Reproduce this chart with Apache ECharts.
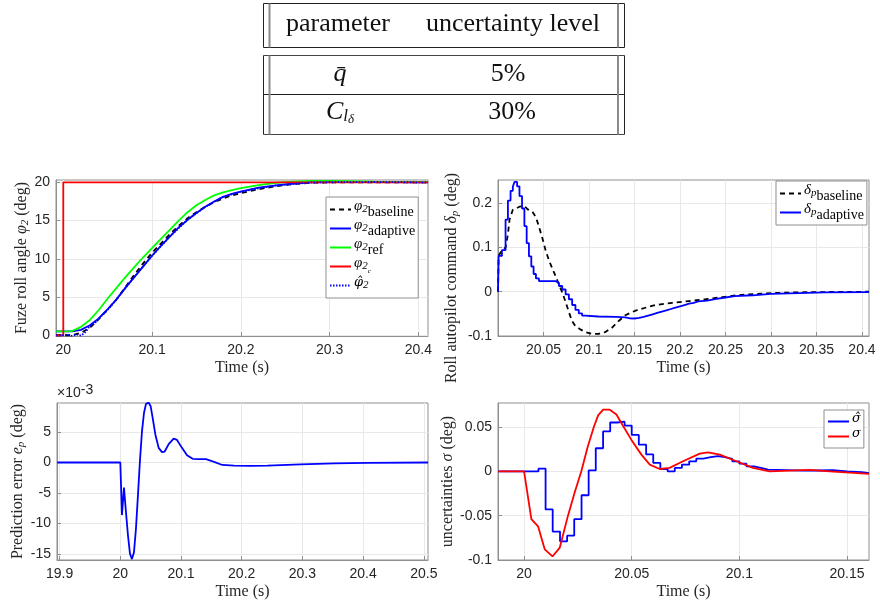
<!DOCTYPE html>
<html><head><meta charset="utf-8">
<script src="https://cdn.jsdelivr.net/npm/echarts@6/dist/echarts.min.js"></script>
<style>html,body{margin:0;padding:0;background:#fff}#c{width:880px;height:603px}</style>
</head><body><div id="c"></div><script>
// ---------- table ----------
const tableHeader = ['parameter', 'uncertainty level'];
const tableParams = ['{q|q̄}', '{c|C}{l|l}{d|δ}'];
const tableLevels = ['5%', '30%'];

// ---------- plot 1: fuze roll angle ----------
const phiT = [19.992, 20.0, 20.01, 20.02, 20.03, 20.04, 20.05, 20.06, 20.07, 20.08, 20.09, 20.1, 20.11, 20.12, 20.13, 20.14, 20.15, 20.16, 20.17, 20.18, 20.19, 20.2, 20.22, 20.24, 20.26, 20.28, 20.3, 20.35, 20.411];
const phiBaseline = [0, 0, 0.0, 0.3, 1.0, 2.1, 3.4, 4.7, 6.3, 7.9, 9.4, 10.8, 12.0, 13.2, 14.3, 15.3, 16.1, 16.8, 17.4, 17.9, 18.3, 18.6, 19.1, 19.5, 19.8, 19.95, 20.0, 20.0, 20.0];
const phiAdaptive = [0.5, 0.5, 0.5, 0.7, 1.3, 2.2, 3.4, 4.7, 6.2, 7.6, 9.0, 10.4, 11.7, 12.9, 14.1, 15.1, 16.0, 16.8, 17.5, 18.1, 18.5, 18.8, 19.3, 19.6, 19.85, 20.0, 20.05, 20.05, 20.0];
const phiRef = [0.5, 0.5, 0.55, 1.1, 2.0, 3.3, 4.8, 6.2, 7.6, 8.9, 10.2, 11.4, 12.6, 13.8, 15.0, 16.1, 17.0, 17.7, 18.3, 18.7, 19.0, 19.25, 19.65, 19.95, 20.1, 20.2, 20.2, 20.1, 20.05];
const cmdT = [19.992, 20.0, 20.0, 20.411];
const cmdV = [0, 0, 20, 20];
const hatT = [19.992, 20.0, 20.005, 20.01, 20.015, 20.02, 20.025, 20.03, 20.035, 20.04, 20.05, 20.06, 20.07, 20.08, 20.09, 20.1, 20.12, 20.14, 20.16, 20.18, 20.2, 20.24, 20.28, 20.35, 20.411];
const hatV = [0, 0, 0.1, -0.1, 0.1, -0.05, 0.4, 1.2, 1.5, 2.2, 3.3, 4.7, 6.2, 7.6, 9.0, 10.4, 12.9, 15.1, 16.8, 18.1, 18.8, 19.6, 20.0, 20.05, 20.0];
const p1XTicks = [20, 20.1, 20.2, 20.3, 20.4];
const p1YTicks = [0, 5, 10, 15, 20];

// ---------- plot 2: roll autopilot command ----------
const dpAdT = [20.0, 20.0007, 20.0043, 20.0083, 20.0109, 20.0138, 20.0163, 20.0181, 20.021, 20.0236, 20.0264, 20.029, 20.0315, 20.034, 20.0366, 20.0391, 20.0417, 20.045, 20.0634, 20.067, 20.0706, 20.0743, 20.0779, 20.0815, 20.0851, 20.0888, 20.0924, 20.096, 20.11, 20.13, 20.14, 20.145, 20.15, 20.155, 20.16, 20.165, 20.17, 20.175, 20.18, 20.185, 20.19, 20.195, 20.2, 20.205, 20.21, 20.215, 20.22, 20.23, 20.24, 20.25, 20.26, 20.28, 20.3, 20.33, 20.36, 20.4077];
const dpAdV = [0, 0.081, 0.094, 0.163, 0.206, 0.228, 0.237, 0.248, 0.238, 0.216, 0.188, 0.148, 0.110, 0.080, 0.057, 0.040, 0.030, 0.024, 0.020, 0.013, 0.005, -0.006, -0.017, -0.030, -0.041, -0.049, -0.054, -0.056, -0.057, -0.058, -0.060, -0.0605, -0.059, -0.057, -0.054, -0.051, -0.048, -0.045, -0.042, -0.039, -0.036, -0.033, -0.030, -0.027, -0.025, -0.022, -0.020, -0.016, -0.013, -0.010, -0.008, -0.005, -0.003, -0.0015, -0.0007, 0];
const dpBaT = [20.0, 20.0007, 20.0043, 20.0083, 20.0109, 20.0127, 20.0163, 20.0199, 20.0236, 20.029, 20.0326, 20.038, 20.0417, 20.0453, 20.0489, 20.0525, 20.0562, 20.0598, 20.0634, 20.067, 20.0707, 20.0739, 20.0776, 20.0813, 20.0849, 20.0904, 20.096, 20.1033, 20.1107, 20.118, 20.1254, 20.1327, 20.14, 20.1474, 20.1548, 20.1732, 20.1915, 20.2099, 20.2283, 20.2467, 20.2651, 20.3018, 20.3386, 20.4077];
const dpBaV = [0, 0.081, 0.094, 0.100, 0.130, 0.163, 0.185, 0.188, 0.192, 0.194, 0.186, 0.180, 0.168, 0.145, 0.120, 0.092, 0.070, 0.052, 0.035, 0.016, -0.002, -0.021, -0.044, -0.066, -0.077, -0.085, -0.091, -0.095, -0.095, -0.091, -0.081, -0.066, -0.053, -0.046, -0.040, -0.030, -0.025, -0.021, -0.017, -0.012, -0.0075, -0.003, -0.001, 0];
const p2XTicks = [20.05, 20.1, 20.15, 20.2, 20.25, 20.3, 20.35, 20.4];
const p2YTicks = [-0.1, 0, 0.1, 0.2];

// ---------- plot 3: prediction error (x 1e-3) ----------
const errT = [19.896, 20.0, 20.0027, 20.006, 20.0093, 20.0126, 20.0159, 20.0192, 20.0225, 20.0258, 20.0291, 20.0324, 20.0357, 20.039, 20.0423, 20.0467, 20.05, 20.0533, 20.0577, 20.0632, 20.0687, 20.0731, 20.0797, 20.0879, 20.0934, 20.1016, 20.1099, 20.1192, 20.13, 20.141, 20.1546, 20.168, 20.1875, 20.215, 20.2423, 20.297, 20.352, 20.4068, 20.507];
const errScaled = [0, 0, -8.6, -4.1, -8.1, -11.9, -14.9, -15.8, -14.7, -10.8, -5.3, 0.4, 5.1, 8.1, 9.6, 9.8, 9.2, 7.3, 4.6, 2.4, 1.7, 1.8, 3.0, 3.9, 3.7, 2.4, 1.2, 0.6, 0.55, 0.55, 0.1, -0.4, -0.5, -0.55, -0.5, -0.3, -0.15, -0.05, 0];
const p3XTicks = [19.9, 20, 20.1, 20.2, 20.3, 20.4, 20.5];
const p3YTicks = [-15, -10, -5, 0, 5];

// ---------- plot 4: uncertainties ----------
const shT = [19.988, 20.0067, 20.01, 20.0133, 20.0167, 20.02, 20.0233, 20.0267, 20.03, 20.0333, 20.0367, 20.04, 20.0433, 20.0467, 20.05, 20.0533, 20.0567, 20.06, 20.0633, 20.0667, 20.07, 20.0733, 20.0767, 20.08, 20.0833, 20.0867, 20.09, 20.0933, 20.0967, 20.1, 20.1033, 20.1067, 20.11, 20.1133, 20.13, 20.1433, 20.15, 20.1567, 20.1602];
const shV = [0, 0.003, -0.043, -0.068, -0.079, -0.0726, -0.054, -0.027, 0.001, 0.026, 0.045, 0.055, 0.056, 0.0515, 0.041, 0.030, 0.019, 0.0094, 0.0026, 0.0, 0.0038, 0.0075, 0.0113, 0.0143, 0.016, 0.017, 0.016, 0.014, 0.0113, 0.0086, 0.0056, 0.0038, 0.0019, 0.0008, 0.0012, 0.0, -0.001, -0.002, -0.002];
const sT = [19.988, 20.0, 20.0034, 20.0065, 20.0096, 20.0132, 20.0166, 20.0204, 20.0235, 20.0266, 20.0295, 20.0324, 20.0344, 20.0367, 20.0398, 20.0429, 20.046, 20.0498, 20.0545, 20.0584, 20.063, 20.0676, 20.0738, 20.0816, 20.0854, 20.0909, 20.0986, 20.1063, 20.1141, 20.1234, 20.1327, 20.142, 20.1602];
const sV = [0, 0, -0.054, -0.062, -0.088, -0.096, -0.086, -0.05, -0.024, 0.0, 0.027, 0.05, 0.063, 0.0695, 0.0695, 0.064, 0.051, 0.0357, 0.0188, 0.0075, 0.0026, 0.0038, 0.0113, 0.02, 0.0214, 0.0188, 0.0113, 0.0038, 0.0, 0.0008, 0.0015, 0.0, -0.003];
const p4XTicks = [20, 20.05, 20.1, 20.15];
const p4YTicks = [-0.1, -0.05, 0, 0.05];

// ---------- helpers ----------
const zip = (t, v) => t.map((x, i) => [x, v[i]]);
const SERIF = 'Liberation Serif';
const SANS = 'Liberation Sans';
const TXT = '#262626';
const BOX = '#8f8f8f';
const GRIDC = '#e8e8e8';
const fmt = v => String(parseFloat((+v).toFixed(4)));
const richMath = {
  v: {fontFamily: SERIF, fontStyle: 'italic', fontSize: 16, color: TXT},
  n: {fontFamily: SERIF, fontStyle: 'italic', fontSize: 11, color: TXT, padding: [7, 0, 0, 0]}
};

function xAx(idx, min, max, ticks, gap) {
  return {
    type: 'value', gridIndex: idx, min: min, max: max,
    axisLine: {show: true, onZero: false, lineStyle: {color: BOX}},
    axisTick: {show: true, inside: true, length: 4, customValues: ticks, lineStyle: {color: BOX}},
    axisLabel: {customValues: ticks, formatter: fmt, color: TXT, fontFamily: SANS, fontSize: 14, margin: 7},
    splitLine: {show: true, lineStyle: {color: GRIDC, width: 1}},
    name: 'Time (s)', nameLocation: 'middle', nameGap: gap,
    nameTextStyle: {fontFamily: SERIF, fontSize: 16, color: TXT}
  };
}
function yAx(idx, min, max, ticks, name, gap, pad) {
  return {
    type: 'value', gridIndex: idx, min: min, max: max,
    axisLine: {show: true, onZero: false, lineStyle: {color: BOX}},
    axisTick: {show: true, inside: true, length: 4, customValues: ticks, lineStyle: {color: BOX}},
    axisLabel: {customValues: ticks, formatter: fmt, color: TXT, fontFamily: SANS, fontSize: 14, margin: 6},
    splitLine: {show: true, lineStyle: {color: GRIDC, width: 1}},
    name: name, nameLocation: 'middle', nameGap: gap, nameRotate: 90,
    nameTextStyle: {fontFamily: SERIF, fontSize: 16, color: TXT, rich: richMath, padding: pad || 0}
  };
}
function line(name, xi, data, color, opts) {
  return Object.assign({
    name: name, type: 'line', xAxisIndex: xi, yAxisIndex: xi, data: data,
    symbol: 'none', showSymbol: false, animation: false, silent: true,
    lineStyle: {color: color, width: 1.8}, itemStyle: {color: color}
  }, opts || {});
}

const legendRich = {
  v: {fontFamily: SERIF, fontStyle: 'italic', fontSize: 15, color: '#000', lineHeight: 15, padding: [0, 0, 6, 0]},
  h: {fontFamily: 'DejaVu Serif', fontStyle: 'italic', fontSize: 13, color: '#000', lineHeight: 15, padding: [0, 0, 6, 0]},
  n: {fontFamily: SERIF, fontStyle: 'italic', fontSize: 11, color: '#000', lineHeight: 11, padding: [5, 0, 5, 0]},
  c: {fontFamily: SERIF, fontStyle: 'italic', fontSize: 7, color: '#000', lineHeight: 7, padding: [12, 0, 2, 0]},
  b: {fontFamily: SERIF, fontSize: 14, color: '#000', lineHeight: 15, padding: [6, 0, 0, 0]}
};
const legendLabels = {
  'phi_baseline': '{v|φ}{n|2}{b|baseline}',
  'phi_adaptive': '{v|φ}{n|2}{b|adaptive}',
  'phi_ref': '{v|φ}{n|2}{b|ref}',
  'phi_cmd': '{v|φ}{n|2}{c|c}',
  'phi_hat': '{h|φ̂}{n|2}',
  'dp_baseline': '{v|δ}{n|p}{b|baseline}',
  'dp_adaptive': '{v|δ}{n|p}{b|adaptive}',
  'sigma_hat': '{h|σ̂}',
  'sigma': '{h|σ}'
};
function legend(names, left, top, gap) {
  return {
    data: names, left: left, top: top, orient: 'vertical',
    backgroundColor: '#fff', borderColor: BOX, borderWidth: 1, borderRadius: 0,
    padding: [2, 3, 2, 3], itemWidth: 21, itemHeight: 12, itemGap: gap,
    selectedMode: false,
    itemStyle: {opacity: 0, borderWidth: 0},
    formatter: n => legendLabels[n],
    textStyle: {fontFamily: SERIF, fontSize: 14, color: '#000', rich: legendRich, padding: [0, 0, 0, -2]}
  };
}

// ---------- table graphic ----------
const tg = [];
function hl(y, x1, x2, c, w) { tg.push({type: 'line', shape: {x1: x1, y1: y, x2: x2, y2: y}, style: {stroke: c, lineWidth: w}}); }
function vl(x, y1, y2, c, w) { tg.push({type: 'line', shape: {x1: x, y1: y1, x2: x, y2: y2}, style: {stroke: c, lineWidth: w}}); }
const TL = 263.5, TR = 624.5;
hl(3.5, TL, TR, '#222', 1); hl(47.5, TL, TR, '#222', 1);
hl(55.5, TL, TR, '#444', 1); hl(94.5, TL, TR, '#222', 1); hl(134.5, TL, TR, '#444', 1);
[[3.5, 47.5], [55.5, 134.5]].forEach(([a, b]) => {
  vl(TL, a, b, '#222', 1); vl(269.5, a, b, '#8a8a8a', 2);
  vl(618, a, b, '#8a8a8a', 2); vl(TR, a, b, '#222', 1);
});
const tRich = {
  q: {fontFamily: SERIF, fontStyle: 'italic', fontSize: 26, color: '#111'},
  c: {fontFamily: SERIF, fontStyle: 'italic', fontSize: 26, color: '#111'},
  l: {fontFamily: SERIF, fontStyle: 'italic', fontSize: 17, color: '#111', padding: [10, 0, 0, 0]},
  d: {fontFamily: SERIF, fontStyle: 'italic', fontSize: 13, color: '#111', padding: [16, 0, 0, 0]}
};
function ttext(x, y, s) {
  tg.push({type: 'text', x: x, y: y, style: {text: s, fontFamily: SERIF, fontSize: 26, fill: '#111', align: 'center', verticalAlign: 'middle', rich: tRich}});
}
ttext(338, 24, tableHeader[0]); ttext(513, 24, tableHeader[1]);
ttext(340, 74, tableParams[0]); ttext(508, 74, tableLevels[0]);
ttext(340, 112, tableParams[1]); ttext(512, 112, tableLevels[1]);
// exponent label for plot 3
tg.push({type: 'text', x: 57, y: 383, style: {text: '×10{e|-3}', fontFamily: SANS, fontSize: 14, fill: TXT,
  rich: {e: {fontFamily: SANS, fontSize: 14, fill: TXT, padding: [0, 0, 6, 0]}}}});

const chart = echarts.init(document.getElementById('c'), null, {renderer: 'canvas'});
const gridBase = {show: true, borderColor: BOX, borderWidth: 1, backgroundColor: '#fff', containLabel: false, outerBoundsMode: 'none'};
chart.setOption({
  backgroundColor: '#fff',
  animation: false,
  grid: [
    Object.assign({left: 56, top: 180, width: 372, height: 156}, gridBase),
    Object.assign({left: 498, top: 180, width: 371, height: 156}, gridBase),
    Object.assign({left: 57, top: 403, width: 371, height: 157}, gridBase),
    Object.assign({left: 498, top: 403, width: 371, height: 157}, gridBase)
  ],
  xAxis: [
    xAx(0, 19.9918, 20.4109, p1XTicks, 24),
    xAx(1, 20.0, 20.4077, p2XTicks, 24),
    xAx(2, 19.8957, 20.5069, p3XTicks, 24),
    xAx(3, 19.9879, 20.1602, p4XTicks, 24)
  ],
  yAxis: [
    yAx(0, -0.1, 20.31, p1YTicks, 'Fuze roll angle {v|φ}{n|2} (deg)', 22),
    yAx(1, -0.1, 0.2524, p2YTicks, 'Roll autopilot command {v|δ}{n|p} (deg)', 37, [0, 40, 0, 0]),
    yAx(2, -15.95, 9.74, p3YTicks, 'Prediction error {v|e}{n|p} (deg)', 28),
    yAx(3, -0.1, 0.077, p4YTicks, 'uncertainties {v|σ} (deg)', 38)
  ],
  legend: [
    legend(['phi_baseline', 'phi_adaptive', 'phi_ref', 'phi_cmd', 'phi_hat'], 326, 197, -2),
    legend(['dp_baseline', 'dp_adaptive'], 776, 181, -2),
    legend(['sigma_hat', 'sigma'], 824, 410, -4)
  ],
  graphic: tg,
  series: [
    line('phi_baseline', 0, zip(phiT, phiBaseline), '#000000', {lineStyle: {color: '#000', width: 1.8, type: [5, 4]}}),
    line('phi_adaptive', 0, zip(phiT, phiAdaptive), '#0000ff'),
    line('phi_ref', 0, zip(phiT, phiRef), '#00ff00'),
    line('phi_cmd', 0, zip(cmdT, cmdV), '#ff0000'),
    line('phi_hat', 0, zip(hatT, hatV), '#0000ff', {lineStyle: {color: '#0000ff', width: 1.8, type: [1.5, 1.5]}}),
    line('dp_baseline', 1, zip(dpBaT, dpBaV), '#000000', {lineStyle: {color: '#000', width: 1.8, type: [5, 4]}}),
    line('dp_adaptive', 1, zip(dpAdT, dpAdV), '#0000ff', {step: 'end'}),
    line('err', 2, zip(errT, errScaled), '#0000ff'),
    line('sigma_hat', 3, zip(shT, shV), '#0000ff', {step: 'end'}),
    line('sigma', 3, zip(sT, sV), '#ff0000')
  ]
});
</script></body></html>
